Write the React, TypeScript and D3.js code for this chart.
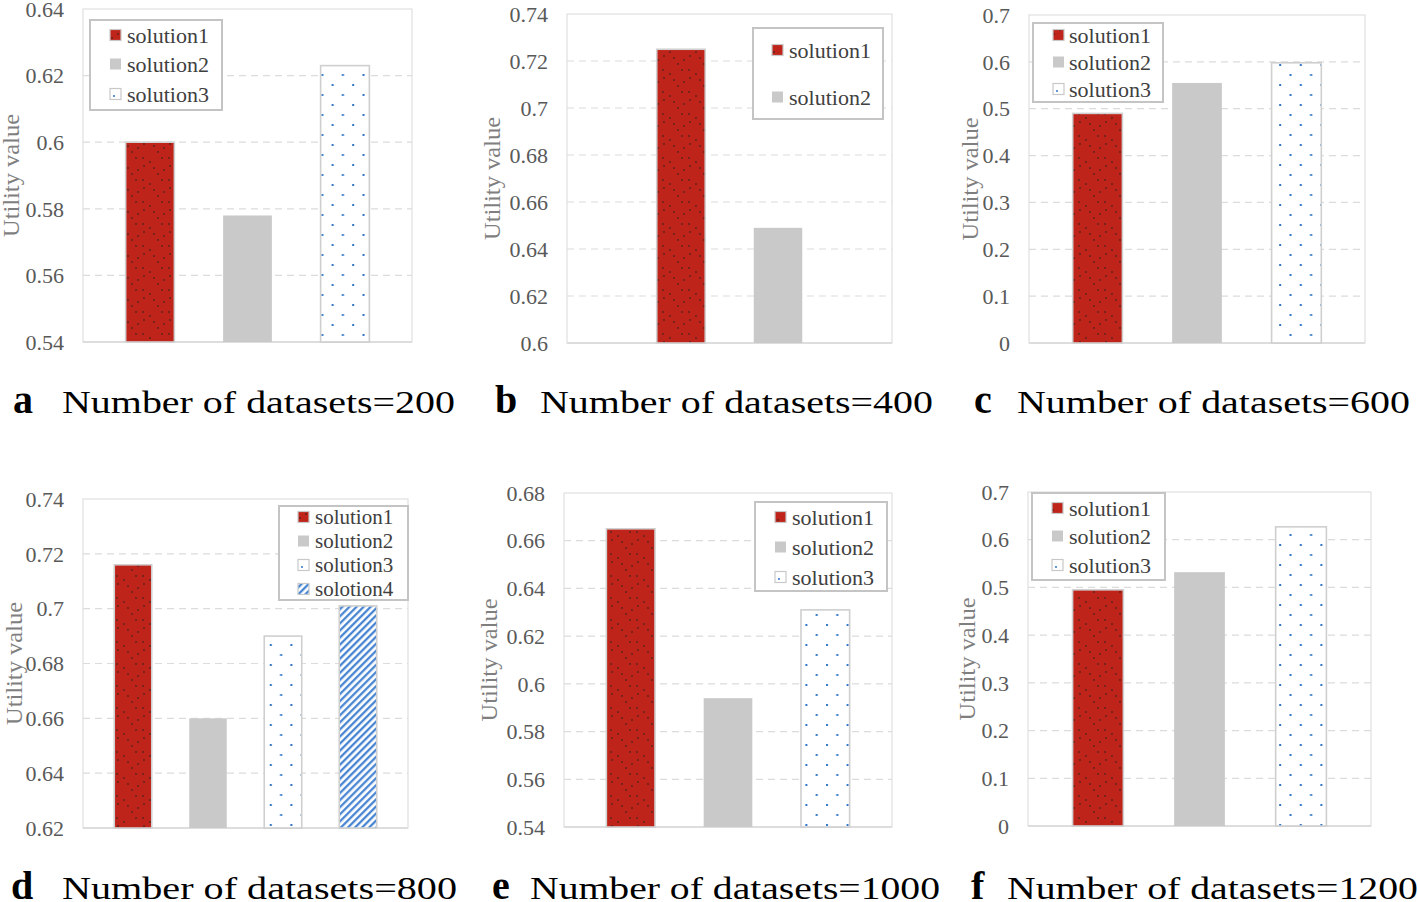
import React from 'react';
import * as d3 from 'd3';

// ---------- data ----------
const seriesNames = ['solution1', 'solution2', 'solution3', 'solotion4'];
const panelLetters = ['a', 'b', 'c', 'd', 'e', 'f'];
const datasetCounts = [200, 400, 600, 800, 1000, 1200];

const valuesA = [0.6, 0.578, 0.623];
const valuesB = [0.725, 0.649];
const valuesC = [0.49, 0.555, 0.598];
const valuesD = [0.716, 0.66, 0.69, 0.701];
const valuesE = [0.665, 0.594, 0.631];
const valuesF = [0.495, 0.532, 0.627];

const ticksA = [0.54, 0.56, 0.58, 0.6, 0.62, 0.64];
const ticksB = [0.6, 0.62, 0.64, 0.66, 0.68, 0.7, 0.72, 0.74];
const ticksC = [0, 0.1, 0.2, 0.3, 0.4, 0.5, 0.6, 0.7];
const ticksD = [0.62, 0.64, 0.66, 0.68, 0.7, 0.72, 0.74];
const ticksE = [0.54, 0.56, 0.58, 0.6, 0.62, 0.64, 0.66, 0.68];
const ticksF = [0, 0.1, 0.2, 0.3, 0.4, 0.5, 0.6, 0.7];

const yTitle = 'Utility value';
const captionPrefix = 'Number of datasets=';

// ---------- layout ----------
type Layout = {
  frame: [number, number, number, number];
  group: number;
  box: [number, number, number, number];
  rows: number[];
  mx: number;
  tx: number;
  fs: number;
  titleX: number;
  letterX: number;
  capX: number;
  capY: number;
  capW: number;
};

const layouts: Layout[] = [
  { frame: [83, 412, 9, 342], group: 0.889, box: [90, 20, 132, 90], rows: [35, 64, 94], mx: 110, tx: 127, fs: 22, titleX: 11, letterX: 13, capX: 62, capY: 413, capW: 393 },
  { frame: [567, 892, 14, 343], group: 0.597, box: [753, 28, 130, 91], rows: [50, 97], mx: 772, tx: 789, fs: 22, titleX: 492, letterX: 495, capX: 540, capY: 413, capW: 393 },
  { frame: [1029, 1365, 15, 343], group: 0.888, box: [1033, 23, 130, 79], rows: [35, 62, 89], mx: 1053, tx: 1069, fs: 22, titleX: 970, letterX: 974, capX: 1017, capY: 413, capW: 393 },
  { frame: [83, 408, 499, 828], group: 0.923, box: [279, 506, 129, 94], rows: [517, 541, 565, 589], mx: 298, tx: 315, fs: 21, titleX: 14, letterX: 11, capX: 62, capY: 899, capW: 395 },
  { frame: [564, 892, 493, 827], group: 0.89, box: [755, 502, 132, 89], rows: [517, 547, 577], mx: 775, tx: 792, fs: 22, titleX: 489, letterX: 492, capX: 530, capY: 899, capW: 410 },
  { frame: [1028, 1371, 492, 826], group: 0.888, box: [1032, 493, 133, 87], rows: [508, 536, 565], mx: 1052, tx: 1069, fs: 22, titleX: 967, letterX: 971, capX: 1007, capY: 899, capW: 411 },
];

const panelValues = [valuesA, valuesB, valuesC, valuesD, valuesE, valuesF];
const panelTicks = [ticksA, ticksB, ticksC, ticksD, ticksE, ticksF];

const fills = ['url(#pRed)', '#C9C9C9', 'url(#pDot)', 'url(#pHatch)'];
const strokes = ['#D0D0D0', 'none', '#CFCFCF', '#CFCFCF'];

const SERIF = '"Liberation Serif", "Times New Roman", serif';
const fmt = (v: number) => String(+v.toFixed(2));

function Panel({ i }: { i: number }) {
  const L = layouts[i];
  const vals = panelValues[i];
  const ticks = panelTicks[i];
  const [x0, x1, y0, y1] = L.frame;
  const names = seriesNames.slice(0, vals.length);
  const y = d3.scaleLinear().domain([ticks[0], ticks[ticks.length - 1]]).range([y1, y0]);
  const cx = (x0 + x1) / 2;
  const G = (x1 - x0) * L.group;
  const x = d3.scaleBand<string>().domain(names).range([cx - G / 2, cx + G / 2]).paddingInner(0.5).paddingOuter(0.25);
  const cy = (y0 + y1) / 2;
  const [bx, by, bw, bh] = L.box;
  const ms = 11;
  return (
    <g>
      <rect x={x0} y={y0} width={x1 - x0} height={y1 - y0} fill="#fff" stroke="#E0E0E0" strokeWidth={1.2} />
      {ticks.slice(1, -1).map((t) => (
        <line key={t} x1={x0} x2={x1} y1={y(t)} y2={y(t)} stroke="#DCDCDC" strokeWidth={1.2} strokeDasharray="7,5" />
      ))}
      <line x1={x0} x2={x1} y1={y1} y2={y1} stroke="#D9D9D9" strokeWidth={1.5} />
      {ticks.map((t) => (
        <text key={t} x={x0 - 19} y={y(t)} dy="0.35em" textAnchor="end" fontFamily={SERIF} fontSize={22} fill="#595959">
          {fmt(t)}
        </text>
      ))}
      {vals.map((v, k) => (
        <rect key={k} x={x(names[k])} y={y(v)} width={x.bandwidth()} height={y1 - y(v)} fill={fills[k]} stroke={strokes[k]} strokeWidth={1.6} />
      ))}
      <text transform={`translate(${L.titleX},${cy}) rotate(-90)`} textAnchor="middle" dy="0.35em" fontFamily={SERIF} fontSize={23} fill="#7F7F7F" textLength={123} lengthAdjust="spacingAndGlyphs">
        {yTitle}
      </text>
      <rect x={bx} y={by} width={bw} height={bh} fill="#fff" stroke="#C4C4C4" strokeWidth={2} />
      {names.map((n, k) => (
        <g key={n}>
          <rect x={L.mx} y={L.rows[k] - ms / 2} width={ms} height={ms} fill={k === 2 ? '#fff' : fills[k]} stroke={k === 1 ? 'none' : '#C8C8C8'} strokeWidth={1.2} />
          {k === 2 && <circle cx={L.mx + 4} cy={L.rows[k] + 2} r={1} fill="#2E75C6" />}
          <text x={L.tx} y={L.rows[k]} dy="0.35em" fontFamily={SERIF} fontSize={L.fs} fill="#404040">
            {n}
          </text>
        </g>
      ))}
      <text x={L.letterX} y={L.capY} fontFamily={SERIF} fontWeight="bold" fontSize={40} fill="#000">
        {panelLetters[i]}
      </text>
      <text x={L.capX} y={L.capY} fontFamily={SERIF} fontSize={32} fill="#000" textLength={L.capW} lengthAdjust="spacingAndGlyphs">
        {captionPrefix + datasetCounts[i]}
      </text>
    </g>
  );
}

export default function App() {
  return (
    <svg width={1418} height={902} style={{ position: 'absolute', left: 0, top: 0, background: '#fff' }}>
      <defs>
        <pattern id="pRed" patternUnits="userSpaceOnUse" width={26} height={22}>
          <rect width={26} height={22} fill="#BE2419" />
          <circle cx={2} cy={20} r={0.8} fill="#222" />
          <circle cx={8} cy={16} r={0.8} fill="#222" />
          <circle cx={14} cy={12} r={0.8} fill="#222" />
          <circle cx={20} cy={8} r={0.8} fill="#222" />
          <circle cx={6} cy={4} r={0.8} fill="#222" />
          <circle cx={13} cy={4} r={0.8} fill="#222" />
          <circle cx={24} cy={14} r={0.8} fill="#222" />
        </pattern>
        <pattern id="pDot" patternUnits="userSpaceOnUse" width={20.6} height={20}>
          <rect width={20.6} height={20} fill="#fff" />
          <rect x={2} y={4} width={2} height={2} fill="#2E75C6" />
          <rect x={12.3} y={14} width={2} height={2} fill="#2E75C6" />
        </pattern>
        <pattern id="pHatch" patternUnits="userSpaceOnUse" width={5} height={5} patternTransform="rotate(45)">
          <rect width={5} height={5} fill="#fff" />
          <line x1={1.2} y1={0} x2={1.2} y2={5} stroke="#3F7FD0" strokeWidth={2.2} />
        </pattern>
      </defs>
      <rect width={1418} height={902} fill="#fff" />
      {layouts.map((_, i) => (
        <Panel key={i} i={i} />
      ))}
    </svg>
  );
}
